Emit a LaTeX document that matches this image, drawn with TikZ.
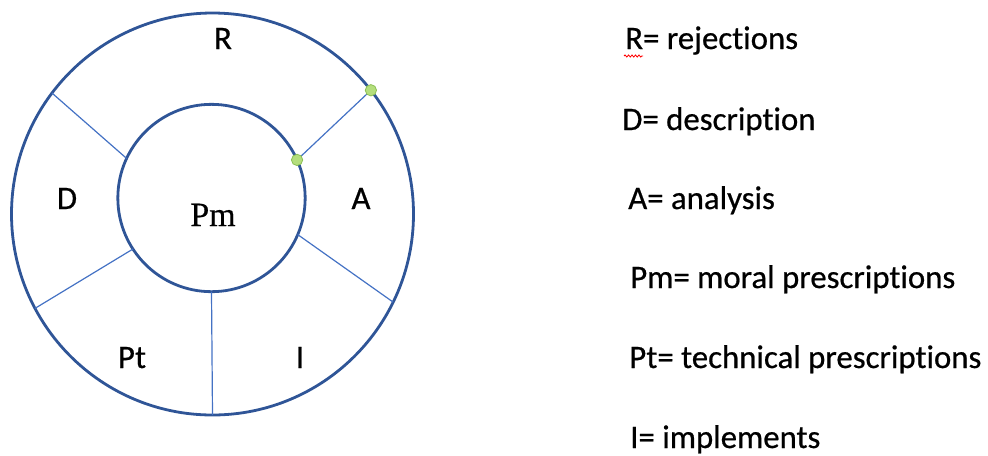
\documentclass[tikz,border=0pt]{standalone}
\usepackage{fontspec}
\setmainfont[Ligatures=NoCommon, FakeBold=0.6]{Carlito}
\newfontfamily\pmfont[FakeBold=0.5]{Liberation Serif}
\usetikzlibrary{decorations.pathmorphing}
\definecolor{ringblue}{HTML}{2F5597}
\definecolor{spokeblue}{HTML}{4472C4}
\definecolor{dotfill}{HTML}{B4DE7C}
\definecolor{dotline}{HTML}{8CBF55}
\tikzset{
  ring/.style={circle, draw=ringblue, line width=2.1pt, inner sep=0pt, outer sep=0pt},
  spoke/.style={draw=spokeblue, line width=0.9pt},
  lbl/.style={inner sep=0pt, anchor=base, font=\fontsize{24.6}{28}\selectfont},
  legend/.style={inner sep=0pt, anchor=base west, font=\fontsize{24.6}{28}\selectfont},
  gdot/.style={circle, fill=dotfill, draw=dotline, line width=0.6pt, minimum size=8.5pt, inner sep=0pt}
}
\begin{document}
\begin{tikzpicture}[x=0.75pt,y=-0.75pt]
\useasboundingbox (0,0) rectangle (988,455);
% rings
\node[ring, minimum size=301.5pt] (outer) at (212.5,214) {};
\node[ring, minimum size=140.5pt] (inner) at (211.5,198) {};
% spokes
\draw[spoke] (inner.155.7) -- (outer.143.7);
\draw[spoke] (inner.24.1) -- (outer.38.2);
\draw[spoke] (inner.-23.7) -- (outer.-26.3);
\draw[spoke] (inner.-90.9) -- (outer.-90.7);
\draw[spoke] (inner.-147.8) -- (outer.-152.8);
% green handles
\node[gdot] (h1) at (outer.38.2) {};
\node[gdot] (h2) at (inner.24.1) {};
% segment labels
\node[lbl] (lR) at (223,49) {R};
\node[lbl] (lD) at (67,209) {D};
\node[lbl] (lA) at (361,209) {A};
\node[lbl] (lPt) at (132,368) {Pt};
\node[lbl] (lI) at (300,368) {I};
\node[lbl, font=\pmfont\fontsize{25.5}{28}\selectfont] (lPm) at (213,226) {Pm};
% legend
\node[legend] (g1) at (625,49) {R= rejections};
\node[legend] (g2) at (622,130) {D= description};
\node[legend] (g3) at (628,209) {A= analysis};
\node[legend] (g4) at (630,288) {Pm= moral prescriptions};
\node[legend] (g5) at (629,368) {Pt= technical prescriptions};
\node[legend] (g6) at (630,448) {I= implements};
% spell-check squiggle
\coordinate (sq1) at (624,56);
\coordinate (sq2) at (643,56);
\draw[red, line width=0.6pt, decorate, decoration={snake, segment length=2.6pt, amplitude=0.8pt}] (sq1) -- (sq2);
\end{tikzpicture}
\end{document}
